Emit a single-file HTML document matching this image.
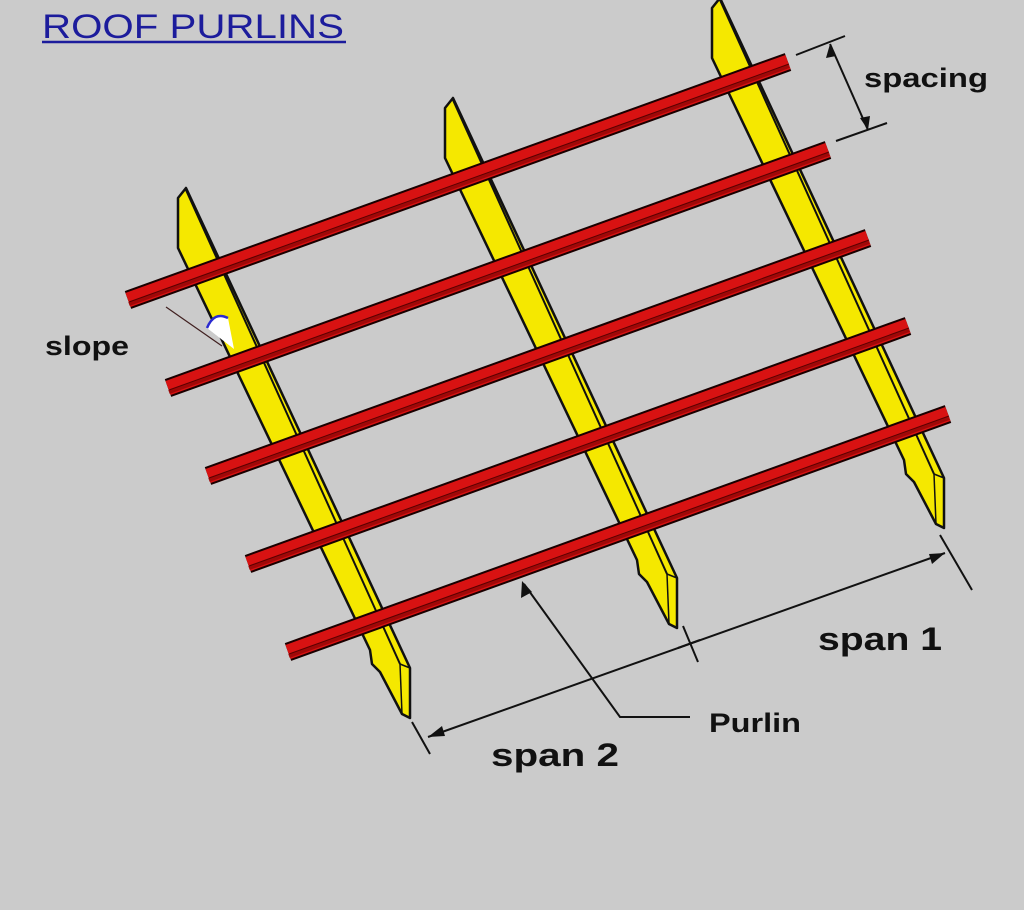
<!DOCTYPE html>
<html><head><meta charset="utf-8"><style>
html,body{margin:0;padding:0;background:#cbcbcb;}
svg{display:block;}
text{font-family:"Liberation Sans",sans-serif;}
</style></head><body>
<svg width="1024" height="910" viewBox="0 0 1024 910" xmlns="http://www.w3.org/2000/svg">
<rect width="1024" height="910" fill="#cbcbcb"/>
<text x="42" y="38" font-size="34" fill="#1c1c9c" textLength="302" lengthAdjust="spacingAndGlyphs">ROOF PURLINS</text>
<line x1="42" y1="42" x2="346" y2="42" stroke="#1c1c9c" stroke-width="2.5"/>

<defs>
<g id="raf">
<polygon points="178,198 186,188 410,668 410,718 402,714 380,672 372,664 370,650 178,248" fill="#f5e800" stroke="#111" stroke-width="2.5" stroke-linejoin="round"/>
<line x1="186" y1="190" x2="400" y2="664" stroke="#111" stroke-width="2"/>
<line x1="400" y1="664" x2="402" y2="714" stroke="#111" stroke-width="1.5"/>
<line x1="400" y1="664" x2="410" y2="668" stroke="#111" stroke-width="1.5"/>
</g>
<g id="pur">
<line x1="128" y1="300" x2="788" y2="62" stroke="#1a0000" stroke-width="19"/>
<line x1="128" y1="300" x2="788" y2="62" stroke="#d81212" stroke-width="15"/>
<line x1="129" y1="304" x2="789" y2="66" stroke="#a00808" stroke-width="4"/>
<line x1="129" y1="302" x2="789" y2="64" stroke="#5a0000" stroke-width="1"/>
</g>
</defs>

<use href="#raf"/>
<use href="#raf" transform="translate(267,-90)"/>
<use href="#raf" transform="translate(534,-190)"/>

<use href="#pur"/>
<use href="#pur" transform="translate(40,88)"/>
<use href="#pur" transform="translate(80,176)"/>
<use href="#pur" transform="translate(120,264)"/>
<use href="#pur" transform="translate(160,352)"/>

<g stroke="#111" stroke-width="2" fill="none">
<!-- spacing -->
<line x1="796" y1="55" x2="845" y2="36"/>
<line x1="836" y1="141" x2="887" y2="123"/>
<line x1="830" y1="44" x2="868" y2="130"/>
<!-- slope -->
<line x1="166" y1="307" x2="222" y2="346" stroke-width="1.2" stroke="#402020"/>
<!-- spans -->
<line x1="428" y1="737" x2="945" y2="553"/>
<line x1="412" y1="722" x2="430" y2="754"/>
<line x1="940" y1="535" x2="972" y2="590"/>
<line x1="683" y1="626" x2="698" y2="662"/>
<line x1="678" y1="648" x2="700" y2="640"/>
<!-- purlin leader -->
<polyline points="524,584 620,717 690,717"/>
</g>
<path d="M207,328 Q214,311 228,318 L234,349 Z" fill="#fff" stroke="none"/>
<path d="M207,328 Q214,311 228,318" fill="none" stroke="#2a2ad0" stroke-width="2.5"/>
<g fill="#111">
<polygon points="830,44 826,58 836,56"/>
<polygon points="868,130 860,118 870,116"/>
<polygon points="428,737 442,726 445,736"/>
<polygon points="945,553 929,554 932,564"/>
<polygon points="522,581 521,598 532,592"/>
</g>

<g fill="#111" font-weight="bold">
<text x="864" y="87" font-size="27" textLength="124" lengthAdjust="spacingAndGlyphs">spacing</text>
<text x="45" y="355" font-size="27" textLength="84" lengthAdjust="spacingAndGlyphs">slope</text>
<text x="818" y="650" font-size="32" textLength="124" lengthAdjust="spacingAndGlyphs">span 1</text>
<text x="491" y="766" font-size="32" textLength="128" lengthAdjust="spacingAndGlyphs">span 2</text>
<text x="709" y="732" font-size="27" textLength="92" lengthAdjust="spacingAndGlyphs">Purlin</text>
</g>
</svg>
</body></html>
